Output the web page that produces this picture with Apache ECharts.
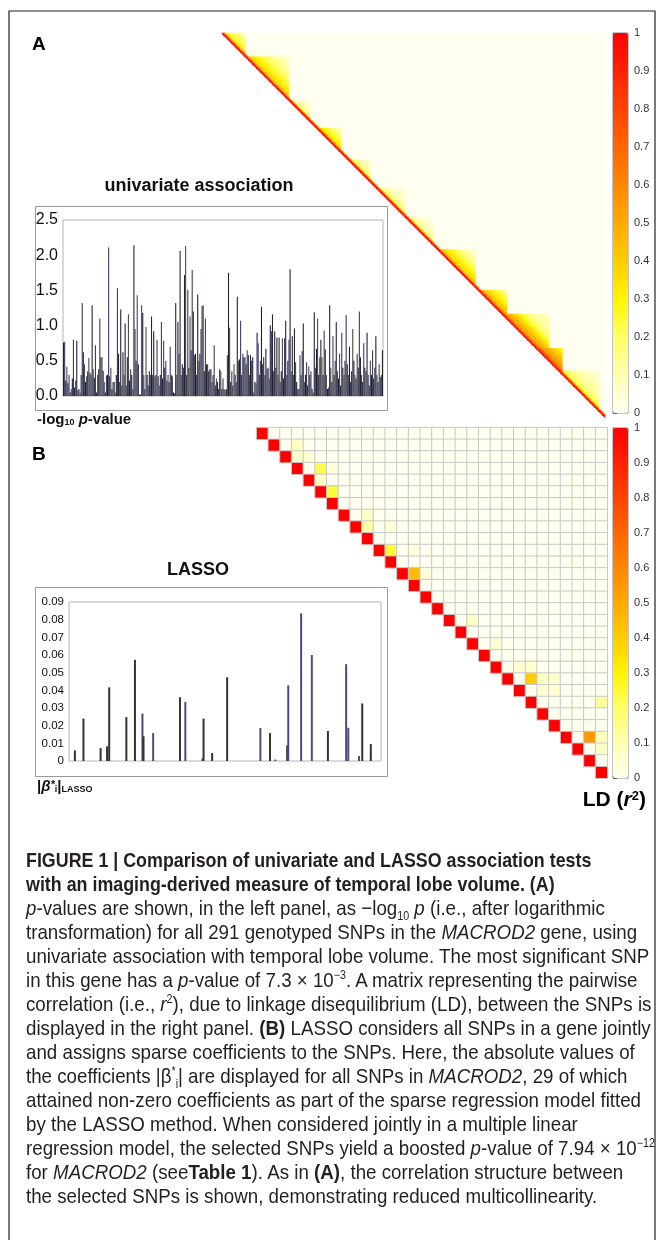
<!DOCTYPE html>
<html>
<head>
<meta charset="utf-8">
<title>MACROD2 univariate vs LASSO</title>
<script src="https://cdn.jsdelivr.net/npm/echarts@6.0.0/dist/echarts.min.js"></script>
<style>
  html, body { margin: 0; padding: 0; background: #fff; }
  #chart { position: absolute; left: 0; top: 0; width: 662px; height: 1240px; }
  #caption {
    position: absolute; left: 26px; top: 848px;
    font-family: "Liberation Sans", Arial, sans-serif;
    font-size: 21px; line-height: 24px; color: #231f20; white-space: nowrap;
  }
  #caption div { height: 24px; transform: scaleX(0.892); transform-origin: 0 0; }
  #caption div.head { transform: scaleX(0.85); }
  #caption sup, #caption sub { font-size: 12px; line-height: 0; }
</style>
</head>
<body>
<div id="chart"></div>
<div id="caption">
  <div class="head"><b>FIGURE 1 | Comparison of univariate and LASSO association tests</b></div>
  <div class="head"><b>with an imaging-derived measure of temporal lobe volume. (A)</b></div>
  <div><i>p</i>-values are shown, in the left panel, as −log<sub>10</sub> <i>p</i> (i.e., after logarithmic</div>
  <div>transformation) for all 291 genotyped SNPs in the <i>MACROD2</i> gene, using</div>
  <div>univariate association with temporal lobe volume. The most significant SNP</div>
  <div>in this gene has a <i>p</i>-value of 7.3 × 10<sup>−3</sup>. A matrix representing the pairwise</div>
  <div>correlation (i.e., <i>r</i><sup>2</sup>), due to linkage disequilibrium (LD), between the SNPs is</div>
  <div>displayed in the right panel. <b>(B)</b> LASSO considers all SNPs in a gene jointly</div>
  <div>and assigns sparse coefficients to the SNPs. Here, the absolute values of</div>
  <div>the coefficients |β<sup>*</sup><sub>i</sub>| are displayed for all SNPs in <i>MACROD2</i>, 29 of which</div>
  <div>attained non-zero coefficients as part of the sparse regression model fitted</div>
  <div>by the LASSO method. When considered jointly in a multiple linear</div>
  <div>regression model, the selected SNPs yield a boosted <i>p</i>-value of 7.94 × 10<sup>−12</sup></div>
  <div>for <i>MACROD2</i> (see<b>Table 1</b>). As in <b>(A)</b>, the correlation structure between</div>
  <div>the selected SNPs is shown, demonstrating reduced multicollinearity.</div>
</div>
<script>
// -log10 p for each of the 291 SNPs (left to right)
const univariate = [
  0.76, 0.77, 0.22, 0.42, 0.18, 0.30, 0.05, 0.10, 0.25, 0.80,
  0.12, 0.22, 0.78, 0.08, 0.10, 0.05, 0.30, 1.32, 0.62, 0.45,
  0.20, 0.28, 0.35, 0.54, 0.33, 0.30, 1.29, 0.38, 0.26, 0.72,
  0.05, 0.30, 0.38, 1.10, 0.55, 0.55, 0.36, 0.20, 0.05, 0.29,
  0.30, 2.11, 0.28, 0.40, 0.10, 0.20, 0.20, 0.05, 0.30, 1.53,
  0.60, 0.20, 1.23, 0.15, 0.62, 0.30, 1.03, 0.15, 0.55, 1.16,
  0.22, 0.38, 0.30, 0.10, 2.14, 0.95, 0.50, 1.43, 0.45, 0.02,
  0.02, 1.29, 1.18, 0.30, 0.10, 0.98, 0.30, 0.15, 0.35, 0.30,
  1.13, 0.30, 0.92, 0.28, 0.30, 0.80, 0.28, 0.15, 0.30, 1.05,
  0.25, 0.78, 0.40, 0.50, 0.22, 0.30, 0.20, 0.70, 0.30, 0.28,
  0.05, 0.04, 1.32, 0.30, 1.05, 0.60, 2.06, 0.30, 0.45, 0.40,
  1.72, 2.13, 0.30, 1.51, 0.40, 1.13, 0.65, 1.79, 1.20, 0.58,
  0.60, 0.30, 1.44, 0.50, 0.60, 0.95, 1.28, 1.29, 0.35, 1.10,
  0.45, 0.45, 0.35, 0.38, 0.38, 0.20, 0.30, 0.72, 0.15, 0.25,
  0.20, 0.10, 0.38, 0.35, 0.10, 0.25, 0.10, 0.08, 0.10, 0.58,
  1.75, 0.97, 0.20, 0.35, 0.15, 0.45, 0.30, 0.20, 1.41, 0.50,
  0.52, 1.07, 0.30, 0.60, 0.55, 0.55, 0.45, 0.65, 0.58, 0.30,
  0.58, 0.50, 0.55, 0.05, 0.20, 0.18, 0.90, 0.75, 0.30, 0.50,
  1.27, 0.45, 0.55, 0.30, 0.67, 0.38, 0.40, 0.25, 1.00, 0.92,
  1.16, 0.35, 0.92, 0.40, 0.83, 0.30, 0.83, 0.20, 0.35, 0.82,
  0.25, 0.82, 1.07, 0.30, 0.50, 0.80, 1.80, 0.35, 0.85, 0.30,
  0.96, 0.48, 0.20, 0.10, 0.10, 0.58, 0.30, 0.64, 1.03, 0.20,
  0.30, 0.48, 0.15, 0.42, 0.30, 0.35, 0.10, 0.05, 1.19, 0.40,
  0.67, 1.10, 0.30, 0.55, 0.80, 0.55, 0.30, 0.93, 0.66, 0.30,
  0.10, 0.12, 1.29, 0.40, 0.20, 0.85, 0.30, 0.50, 1.05, 0.35,
  0.25, 0.60, 0.15, 0.90, 0.40, 0.30, 0.50, 1.15, 0.45, 0.30,
  0.70, 0.20, 0.35, 0.95, 0.50, 0.30, 0.25, 0.60, 0.40, 1.20,
  0.55, 0.30, 0.20, 0.75, 0.40, 0.35, 0.90, 0.30, 0.15, 0.50,
  0.30, 0.65, 0.25, 0.40, 0.85, 0.30, 0.20, 0.45, 0.27, 0.30,
  0.65
];

// LASSO: the 29 SNPs (index in gene) with non-zero |beta*|
const lassoSnp  = [5, 13, 29, 35, 37, 53, 61, 68, 69, 78, 103, 108, 124, 125, 133,
                   147, 178, 187, 192, 203, 204, 216, 226, 241, 258, 260, 270, 273, 281];
const lassoBeta = [0.0060, 0.0240, 0.0073, 0.0083, 0.0417, 0.0248, 0.0573, 0.0268, 0.0140, 0.0158,
                   0.0361, 0.0335, 0.0015, 0.0240, 0.0045, 0.0474, 0.0187, 0.0158, 0.0008, 0.0088,
                   0.0428, 0.0836, 0.0600, 0.0170, 0.0548, 0.0188, 0.0028, 0.0326, 0.0096];

// LD (r2) among all 291 SNPs: blocks of correlated SNPs along the diagonal.
// each profile lists r2 going away from the diagonal, one entry per 4 SNPs of distance
const ldBlockStart = [0, 18, 52, 72, 96, 118, 140, 164, 195, 213, 239, 256];
const ldBlockEnd   = [17, 50, 66, 90, 112, 138, 160, 192, 216, 248, 258, 286];
const ldBlockProfile = [
  [0.40, 0.25, 0.20, 0.15],
  [0.45, 0.35, 0.28, 0.22, 0.18, 0.14, 0.10, 0.08],
  [0.20, 0.12, 0.08, 0.05],
  [0.40, 0.30, 0.22, 0.15, 0.10],
  [0.25, 0.15, 0.10, 0.06],
  [0.25, 0.15, 0.10, 0.06, 0.05],
  [0.22, 0.12, 0.08, 0.05],
  [0.45, 0.35, 0.28, 0.22, 0.15, 0.10, 0.08],
  [0.55, 0.40, 0.32, 0.25, 0.18, 0.12],
  [0.60, 0.48, 0.38, 0.28, 0.20, 0.15, 0.12, 0.10, 0.08],
  [0.70, 0.55, 0.45, 0.38, 0.30],
  [0.30, 0.20, 0.15, 0.12, 0.10, 0.08, 0.06, 0.05]
];
const ldDiagBand = [1, 0.85, 0.45];   // r2 right next to the diagonal

// LD (r2) among the 30 SNPs in the LASSO matrix: off-diagonal [row, col, r2]
const selCount = 30;
const selPairs = [
  [1, 3, 0.08], [2, 3, 0.06], [2, 4, 0.05], [3, 5, 0.22], [3, 6, 0.04], [4, 5, 0.08],
  [5, 6, 0.24], [7, 9, 0.06], [8, 9, 0.12], [8, 11, 0.04], [10, 11, 0.24], [10, 13, 0.04],
  [12, 13, 0.45], [12, 14, 0.04], [16, 18, 0.07], [18, 20, 0.05], [20, 22, 0.05], [20, 23, 0.06],
  [21, 23, 0.40], [21, 24, 0.08], [21, 25, 0.06], [22, 24, 0.05], [22, 25, 0.05], [23, 29, 0.13],
  [26, 28, 0.55], [26, 29, 0.08], [27, 29, 0.07]
];

const ldColors = ['#FFFFF0', '#FFFFB3', '#FFFF66', '#FFF500', '#FFCC00', '#FFAA00',
                  '#FF8800', '#FF6600', '#FF4400', '#FF2200', '#FF0000'];
const barShades = ['#1f1f45', '#3c3c68', '#262626', '#4a4a4a'];
const lassoShades = ['#4b4b7c', '#333333'];

const snpIdx = univariate.map((_, i) => i);
const selIdx = Array.from({ length: selCount }, (_, i) => i);

const lassoFull = snpIdx.map(() => 0);
lassoSnp.forEach((s, k) => { lassoFull[s] = lassoBeta[k]; });

const ldA = [];
for (let r = 0; r < snpIdx.length; r++) {
  for (let c = r; c < snpIdx.length; c++) {
    const d = c - r;
    let v = d < ldDiagBand.length ? ldDiagBand[d] : 0;
    for (let k = 0; k < ldBlockStart.length; k++) {
      const prof = ldBlockProfile[k];
      const step = Math.floor(d / 4);
      if (r >= ldBlockStart[k] && c <= ldBlockEnd[k] && step < prof.length) v = Math.max(v, prof[step]);
    }
    ldA.push([c, r, v]);
  }
}

const ldB = [];
for (let r = 0; r < selCount; r++) {
  for (let c = r; c < selCount; c++) {
    let v = r === c ? 1 : 0;
    selPairs.forEach(p => { if (p[0] === r && p[1] === c) v = p[2]; });
    ldB.push([c, r, v]);
  }
}

const font = '"Liberation Sans", Arial, sans-serif';
const tenth = v => (v === 0 || v === 1) ? String(v) : (Math.round(v * 10) / 10).toFixed(1);

const colorbarAxis = (grid) => ({
  type: 'value', gridIndex: grid, min: 0, max: 1, interval: 0.1, position: 'right',
  axisLine: { show: true, lineStyle: { color: '#666' } },
  axisTick: { show: true, length: 4, lineStyle: { color: '#666' } },
  axisLabel: { fontSize: 11, color: '#333', margin: 6, formatter: tenth },
  splitLine: { show: false }
});

const chart = echarts.init(document.getElementById('chart'));
chart.setOption({
  animation: false,
  textStyle: { fontFamily: font },
  grid: [
    { left: 63, top: 220, width: 320, height: 176, show: true, borderColor: '#b4b4b4', borderWidth: 1 },
    { left: 69, top: 602, width: 312, height: 159, show: true, borderColor: '#b4b4b4', borderWidth: 1 },
    { left: 222, top: 33, width: 383, height: 384 },
    { left: 256.6, top: 427.6, width: 350.7, height: 350.7 },
    { left: 613, top: 33, width: 15, height: 380, show: true, borderColor: '#888', borderWidth: 1 },
    { left: 613, top: 428, width: 15, height: 350, show: true, borderColor: '#888', borderWidth: 1 }
  ],
  xAxis: [
    { type: 'category', gridIndex: 0, data: snpIdx, axisLine: { show: false }, axisTick: { show: false }, axisLabel: { show: false } },
    { type: 'category', gridIndex: 1, data: snpIdx, axisLine: { show: false }, axisTick: { show: false }, axisLabel: { show: false } },
    { type: 'category', gridIndex: 2, data: snpIdx, show: false },
    { type: 'category', gridIndex: 3, data: selIdx, show: false },
    { type: 'value', gridIndex: 4, show: false },
    { type: 'value', gridIndex: 5, show: false }
  ],
  yAxis: [
    {
      type: 'value', gridIndex: 0, min: 0, max: 2.5, interval: 0.5,
      axisLine: { show: false }, axisTick: { show: false }, splitLine: { show: false },
      axisLabel: { fontSize: 16, color: '#111', margin: 5, formatter: v => v.toFixed(1) }
    },
    {
      type: 'value', gridIndex: 1, min: 0, max: 0.09, interval: 0.01,
      axisLine: { show: false }, axisTick: { show: false }, splitLine: { show: false },
      axisLabel: { fontSize: 11.5, color: '#111', margin: 5, formatter: v => v === 0 ? '0' : v.toFixed(2) }
    },
    { type: 'category', gridIndex: 2, data: snpIdx, inverse: true, show: false },
    { type: 'category', gridIndex: 3, data: selIdx, inverse: true, show: false },
    colorbarAxis(4),
    colorbarAxis(5)
  ],
  visualMap: [
    {
      type: 'continuous', seriesIndex: 2, min: 0, max: 1, inRange: { color: ldColors },
      left: 613, top: 33, itemWidth: 15, itemHeight: 380, padding: 0,
      calculable: false, hoverLink: false, text: null
    },
    {
      type: 'continuous', seriesIndex: 3, min: 0, max: 1, inRange: { color: ldColors },
      left: 613, top: 428, itemWidth: 15, itemHeight: 350, padding: 0,
      calculable: false, hoverLink: false, text: null
    }
  ],
  series: [
    {
      type: 'bar', xAxisIndex: 0, yAxisIndex: 0, data: univariate,
      barWidth: '100%', silent: true,
      itemStyle: { color: p => barShades[p.dataIndex % barShades.length] }
    },
    {
      type: 'bar', xAxisIndex: 1, yAxisIndex: 1, data: lassoFull,
      barWidth: 2, silent: true,
      itemStyle: { color: p => lassoShades[p.dataIndex % lassoShades.length] }
    },
    {
      type: 'heatmap', xAxisIndex: 2, yAxisIndex: 2, data: ldA,
      progressive: 0, silent: true, itemStyle: { borderWidth: 0 }
    },
    {
      type: 'heatmap', xAxisIndex: 3, yAxisIndex: 3, data: ldB,
      progressive: 0, silent: true, itemStyle: { borderColor: '#c8c8c8', borderWidth: 1 }
    }
  ],
  graphic: [
    // figure frame
    { type: 'polyline', silent: true, shape: { points: [[9, 1240], [9, 11], [655, 11], [655, 1240]] },
      style: { stroke: '#222', lineWidth: 1.2, fill: null } },
    // chart boxes
    { type: 'rect', silent: true, shape: { x: 35.5, y: 206.5, width: 352, height: 204 },
      style: { stroke: '#999', lineWidth: 1, fill: null } },
    { type: 'rect', silent: true, shape: { x: 35.5, y: 587.5, width: 352, height: 189 },
      style: { stroke: '#999', lineWidth: 1, fill: null } },
    // panel letters
    { type: 'text', left: 32, top: 35, style: { text: 'A', font: 'bold 19px ' + font, fill: '#000' } },
    { type: 'text', left: 32, top: 445, style: { text: 'B', font: 'bold 19px ' + font, fill: '#000' } },
    // titles
    { type: 'text', x: 199, y: 186, style: { text: 'univariate association', font: 'bold 18px ' + font,
      fill: '#111', align: 'center', verticalAlign: 'middle' } },
    { type: 'text', x: 198, y: 570, style: { text: 'LASSO', font: 'bold 18px ' + font,
      fill: '#111', align: 'center', verticalAlign: 'middle' } },
    // axis captions
    { type: 'text', x: 37, y: 420, style: {
      text: '{a|-log}{s|10}{a| }{i|p}{a|-value}', verticalAlign: 'middle', fill: '#111',
      rich: {
        a: { font: 'bold 15px ' + font, verticalAlign: 'bottom' },
        s: { font: 'bold 9px ' + font, verticalAlign: 'bottom' },
        i: { font: 'italic bold 15px ' + font, verticalAlign: 'bottom' }
      } } },
    { type: 'text', x: 37, y: 787, style: {
      text: '{a||}{b|β}{t|*}{s|i}{a||}{s|LASSO}', verticalAlign: 'middle', fill: '#111',
      rich: {
        a: { font: 'bold 15px ' + font, verticalAlign: 'bottom' },
        b: { font: 'italic bold 15px ' + font, verticalAlign: 'bottom' },
        t: { font: 'italic bold 11px ' + font, verticalAlign: 'top' },
        s: { font: 'bold 9px ' + font, verticalAlign: 'bottom' }
      } } },
    { type: 'text', x: 646, y: 800, style: {
      text: '{a|LD (}{i|r}{p|2}{a|)}', align: 'right', verticalAlign: 'middle', fill: '#000',
      rich: {
        a: { font: 'bold 21px ' + font, verticalAlign: 'bottom' },
        i: { font: 'italic bold 21px ' + font, verticalAlign: 'bottom' },
        p: { font: 'bold 13px ' + font, verticalAlign: 'top' }
      } } }
  ]
});
</script>
</body>
</html>
